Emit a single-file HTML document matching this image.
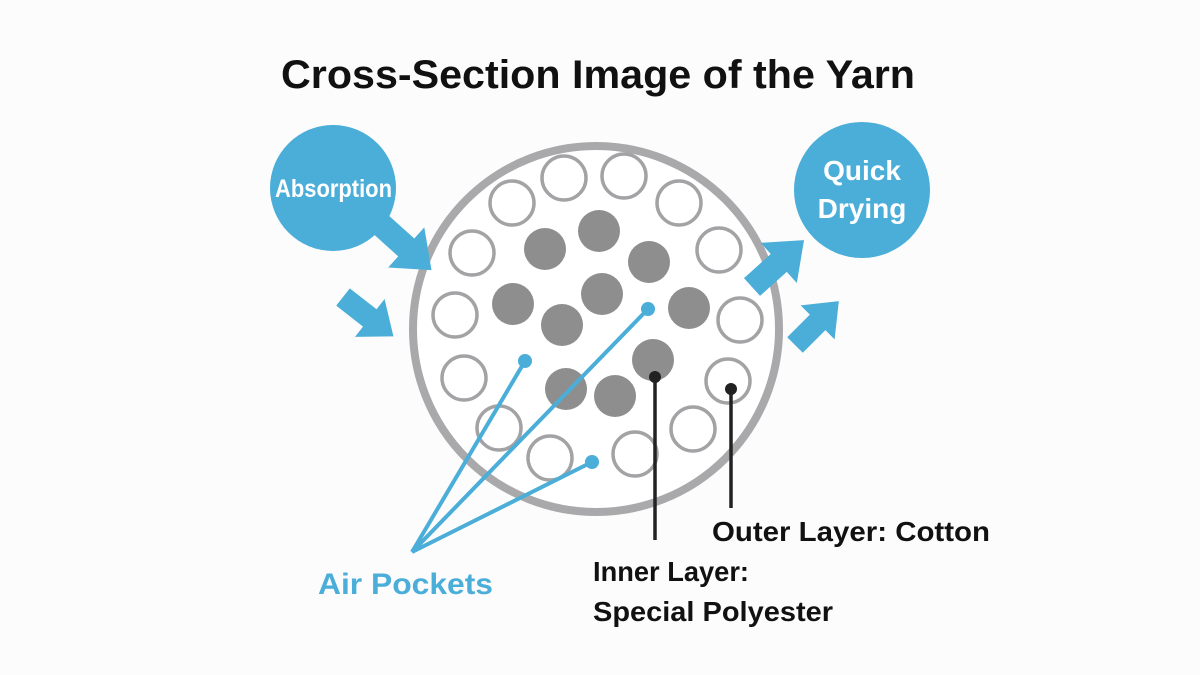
<!DOCTYPE html>
<html><head><meta charset="utf-8"><style>
html,body{margin:0;padding:0;background:#fff;}
svg{display:block;}
</style></head><body>
<svg width="1200" height="675" viewBox="0 0 1200 675" xmlns="http://www.w3.org/2000/svg" font-family="Liberation Sans, sans-serif">
<rect width="1200" height="675" fill="#fcfcfc"/>
<text x="281" y="88" textLength="634" lengthAdjust="spacingAndGlyphs" font-size="40" font-weight="bold" fill="#111">Cross-Section Image of the Yarn</text>
<circle cx="596" cy="329" r="183" fill="#fff" stroke="#a9a9ac" stroke-width="8"/>
<g fill="none" stroke="#a3a3a6" stroke-width="3.5">
<circle cx="512" cy="203" r="22"/><circle cx="564" cy="178" r="22"/><circle cx="624" cy="176" r="22"/><circle cx="679" cy="203" r="22"/>
<circle cx="472" cy="253" r="22"/><circle cx="719" cy="250" r="22"/><circle cx="455" cy="315" r="22"/><circle cx="740" cy="320" r="22"/>
<circle cx="464" cy="378" r="22"/><circle cx="728" cy="381" r="22"/><circle cx="499" cy="428" r="22"/><circle cx="693" cy="429" r="22"/>
<circle cx="550" cy="458" r="22"/><circle cx="635" cy="454" r="22"/>
</g>
<g fill="#8e8e8e">
<circle cx="545" cy="249" r="21"/><circle cx="599" cy="231" r="21"/><circle cx="649" cy="262" r="21"/><circle cx="513" cy="304" r="21"/>
<circle cx="602" cy="294" r="21"/><circle cx="562" cy="325" r="21"/><circle cx="689" cy="308" r="21"/><circle cx="653" cy="360" r="21"/>
<circle cx="566" cy="389" r="21"/><circle cx="615" cy="396" r="21"/>
</g>
<g stroke="#4aaed9" stroke-width="4" fill="#4aaed9">
<line x1="412" y1="552" x2="648" y2="309"/><line x1="412" y1="552" x2="525" y2="361"/><line x1="412" y1="552" x2="592" y2="462"/>
<circle cx="648" cy="309" r="7" stroke="none"/><circle cx="525" cy="361" r="7" stroke="none"/><circle cx="592" cy="462" r="7" stroke="none"/>
</g>
<g stroke="#222" stroke-width="3.5" fill="#222">
<line x1="655" y1="377" x2="655" y2="540"/><circle cx="655" cy="377" r="6" stroke="none"/>
<line x1="731" y1="389" x2="731" y2="508"/><circle cx="731" cy="389" r="6" stroke="none"/>
</g>
<circle cx="333" cy="188" r="63" fill="#4aaed9"/>
<text x="275" y="197" textLength="117" lengthAdjust="spacingAndGlyphs" font-size="25" font-weight="bold" fill="#fff">Absorption</text>
<circle cx="862" cy="190" r="68" fill="#4aaed9"/>
<text x="862" y="180" text-anchor="middle" font-size="28" font-weight="bold" fill="#fff">Quick</text>
<text x="862" y="218" text-anchor="middle" font-size="28" font-weight="bold" fill="#fff">Drying</text>
<g fill="#4aaed9">
<g transform="translate(378,222) rotate(42)"><polygon points="0,-12 38,-12 38,-27 72,0 38,27 38,12 0,12"/></g>
<g transform="translate(343,297) rotate(38)"><polygon points="0,-11 34,-11 34,-24 64,0 34,24 34,11 0,11"/></g>
<g transform="translate(752,287) rotate(-42)"><polygon points="0,-12 36,-12 36,-27 70,0 36,27 36,12 0,12"/></g>
<g transform="translate(795,345) rotate(-45)"><polygon points="0,-11 32,-11 32,-24 62,0 32,24 32,11 0,11"/></g>
</g>
<text x="318" y="594" textLength="175" lengthAdjust="spacingAndGlyphs" font-size="30" font-weight="bold" fill="#4aaed9">Air Pockets</text>
<text x="712" y="541" textLength="278" lengthAdjust="spacingAndGlyphs" font-size="28" font-weight="bold" fill="#111">Outer Layer: Cotton</text>
<text x="593" y="581" textLength="156" lengthAdjust="spacingAndGlyphs" font-size="28" font-weight="bold" fill="#111">Inner Layer:</text>
<text x="593" y="621" textLength="240" lengthAdjust="spacingAndGlyphs" font-size="28" font-weight="bold" fill="#111">Special Polyester</text>
</svg>
</body></html>
